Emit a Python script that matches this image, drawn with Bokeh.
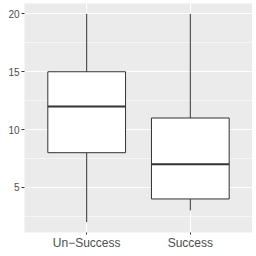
from bokeh.plotting import figure
from bokeh.models import Range1d, FixedTicker, ColumnDataSource
from bokeh.embed import file_html
from bokeh.resources import INLINE

# ---- data ----
categories = ["Un\u2212Success", "Success"]
whisker_low = [2, 3]
q1 = [8, 4]
median = [12, 7]
q3 = [15, 11]
whisker_high = [20, 20]
y_ticks = [5, 10, 15, 20]
y_minor_ticks = [2.5, 7.5, 12.5, 17.5]

box_width = 0.75
xpos = [i + 1 for i in range(len(categories))]

src = ColumnDataSource(dict(
    x=xpos,
    left=[x - box_width / 2 for x in xpos],
    right=[x + box_width / 2 for x in xpos],
    lo=whisker_low, q1=q1, med=median, q3=q3, hi=whisker_high,
))

p = figure(width=252, height=252, output_backend="svg", toolbar_location=None,
           x_range=Range1d(0.4, 2.6), y_range=Range1d(1.1, 20.9),
           min_border_left=24, min_border_right=0, min_border_top=3,
           min_border_bottom=16)

p.background_fill_color = "#EBEBEB"
p.border_fill_color = "white"
p.outline_line_color = None

# grid
p.xgrid.grid_line_color = "white"
p.xgrid.grid_line_width = 1.1
p.ygrid.grid_line_color = "white"
p.ygrid.grid_line_width = 1.1
p.ygrid.minor_grid_line_color = "white"
p.ygrid.minor_grid_line_width = 0.55

# axes
p.yaxis.ticker = FixedTicker(ticks=y_ticks, minor_ticks=y_minor_ticks)
p.xaxis.ticker = FixedTicker(ticks=xpos)
p.xaxis.major_label_overrides = {x: c for x, c in zip(xpos, categories)}
for ax in (p.xaxis, p.yaxis):
    ax.axis_line_color = None
    ax.minor_tick_line_color = None
    ax.major_tick_line_color = "#333333"
    ax.major_tick_line_width = 1
    ax.major_tick_out = 3
    ax.major_tick_in = 0
    ax.major_label_text_color = "#4D4D4D"
    ax.major_label_text_font = "Liberation Sans"
p.yaxis.major_label_text_font_size = "10px"
p.yaxis.major_label_standoff = 1
p.xaxis.major_tick_out = 2
p.xaxis.major_label_text_font_size = "12px"
p.xaxis.major_label_standoff = 1

# whiskers
p.segment(x0="x", y0="q3", x1="x", y1="hi", source=src, line_color="#333333", line_width=1)
p.segment(x0="x", y0="lo", x1="x", y1="q1", source=src, line_color="#333333", line_width=1)
# boxes
p.quad(left="left", right="right", bottom="q1", top="q3", source=src,
       fill_color="white", line_color="#333333", line_width=1)
# median
p.segment(x0="left", y0="med", x1="right", y1="med", source=src,
          line_color="#333333", line_width=2)

open("out.html", "w").write(file_html(p, INLINE))
